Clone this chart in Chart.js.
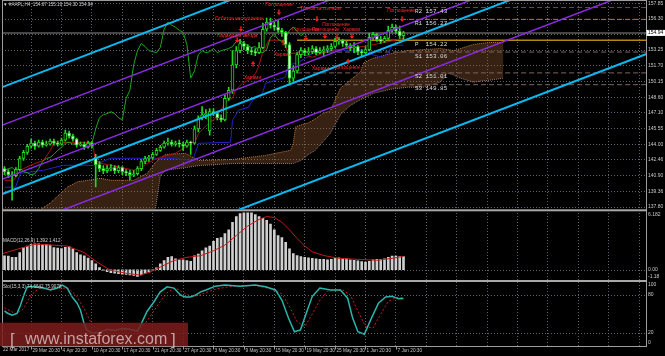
<!DOCTYPE html>
<html><head><meta charset="utf-8">
<script src="https://cdn.jsdelivr.net/npm/chart.js"></script>
<style>html,body{margin:0;padding:0;background:#000;overflow:hidden}#c{display:block}</style>
</head><body>
<canvas id="c" width="665" height="356"></canvas>
<script>
// ---------------- DATA ----------------
const titleText = '\u25BC #AAPL,H4  154.67 155.10 154.30 154.94';
const macdTitle = 'MACD(12,26,9) 1.392 1.412';
const stochTitle = 'Sto(15,3,3) 74.6642 75.9078';
const firstDateLabel = '22 Mar 2017';
const dateLabels = ['29 Mar 20:30','4 Apr 20:30','10 Apr 20:30','17 Apr 20:30','21 Apr 20:30','27 Apr 20:30','3 May 20:30','9 May 20:30','15 May 20:30','19 May 20:30','25 May 20:30','1 Jun 20:30','7 Jun 20:30'];
const dateLabelBars = [7,15,23,31,39,47,55,63,71,79,87,95,103];
const priceTicks = [157.85,156.30,154.75,153.25,151.70,150.15,148.60,147.10,145.55,144.00,142.46,140.90,139.36,137.80];
const bidPrice = 154.94;

const candleOpen  = [141.6,141.3,141.0,140.9,141.5,142.6,143.2,143.8,144.1,143.8,144.2,143.9,144.0,144.3,144.1,144.0,144.4,145.1,144.8,144.5,143.9,144.0,143.7,144.1,142.7,142.0,141.6,141.4,141.6,141.7,141.4,141.7,141.3,141.2,141.0,141.1,141.6,142.3,142.6,142.7,143.0,143.4,143.7,144.1,144.2,144.0,144.1,144.0,143.8,144.2,144.1,145.5,146.6,146.9,145.3,147.2,147.0,146.6,146.4,148.5,149.3,151.8,153.2,153.9,153.6,153.2,153.1,153.0,153.5,155.3,156.0,155.7,155.5,155.2,155.0,153.8,150.5,151.2,152.8,153.2,153.0,153.1,153.4,153.0,153.2,153.3,153.4,153.6,154.1,154.2,153.9,153.7,153.5,153.6,153.1,153.0,153.3,154.5,154.8,154.3,154.1,154.4,155.2,155.5,155.1,154.67];
const candleHigh  = [141.8,141.5,141.3,141.7,142.8,143.4,144.0,144.5,144.3,144.4,144.4,144.3,144.5,144.5,144.3,144.6,145.4,145.3,145.0,144.6,144.2,144.2,144.3,144.2,143.0,142.3,141.9,141.9,142.0,141.9,141.9,141.8,141.5,141.4,141.4,141.8,142.5,142.8,142.9,143.2,143.6,143.9,144.3,144.6,144.4,144.3,144.4,144.2,144.4,144.3,145.8,146.8,147.7,147.4,147.5,147.5,147.1,146.9,148.8,149.6,153.2,153.6,154.3,154.1,153.8,153.5,153.4,154.0,155.9,156.4,156.4,156.1,156.2,155.4,155.1,154.0,151.7,153.0,153.5,153.4,153.5,153.7,153.6,153.5,153.6,153.7,153.9,154.4,154.5,154.3,154.1,153.9,154.0,153.7,153.3,153.6,154.9,155.0,154.9,154.6,154.6,155.6,155.8,155.7,155.6,155.10];
const candleLow   = [141.0,140.7,138.5,140.8,141.4,142.4,143.0,143.6,143.5,143.7,143.7,143.8,143.9,143.9,143.8,143.9,144.3,144.6,144.3,143.7,143.8,143.5,143.6,143.6,139.8,141.3,141.1,141.2,141.4,141.1,141.2,141.0,140.9,140.5,140.8,141.0,141.4,142.1,142.3,142.5,142.9,143.3,143.6,143.9,143.8,143.8,143.7,143.4,143.7,143.0,144.0,145.2,146.4,146.5,144.9,146.8,146.4,146.2,146.3,148.3,149.0,151.5,153.0,153.3,152.9,152.8,152.7,152.9,153.4,155.1,155.4,155.2,155.0,154.6,153.5,149.8,150.2,151.0,152.5,152.7,152.8,152.9,152.8,152.9,152.6,153.0,153.2,153.5,153.8,153.6,153.4,153.2,153.0,152.8,152.7,152.9,153.2,154.3,154.1,153.9,154.0,154.3,155.0,154.9,154.4,154.30];
const candleClose = [141.3,141.0,140.9,141.5,142.6,143.2,143.8,144.1,143.8,144.2,143.9,144.0,144.3,144.1,144.0,144.4,145.1,144.8,144.5,143.9,144.0,143.7,144.1,143.8,142.0,141.6,141.4,141.6,141.7,141.4,141.7,141.3,141.2,141.0,141.1,141.6,142.3,142.6,142.7,143.0,143.4,143.7,144.1,144.2,144.0,144.1,144.0,143.8,144.2,144.1,145.5,146.6,146.9,147.0,147.2,147.0,146.6,146.4,148.5,149.3,151.8,153.2,153.9,153.6,153.2,153.1,153.0,153.5,155.3,156.0,155.7,155.5,155.2,155.0,153.8,150.5,151.2,152.8,153.2,153.0,153.1,153.4,153.0,153.2,153.3,153.4,153.6,154.1,154.2,153.9,153.7,153.5,153.6,153.1,153.0,153.3,154.5,154.8,154.3,154.1,154.4,155.2,155.5,155.1,154.67,154.94];

const tenkanLine = [[0,140.45],[2.4,140.45],[4.2,141.44],[6.8,141.93],[10.3,142.42],[12.1,143.40],[12.9,144.09],[16.6,144.19],[21.8,144.19],[23.2,144.09],[23.9,142.42],[25.3,142.13],[27.9,141.93],[30.5,141.73],[33.9,141.44],[35.8,141.63],[37.6,142.13],[39.2,142.42],[41.1,142.72],[45,143.11],[47.6,143.70],[50.3,144.39],[51.1,145.08],[53.7,146.06],[55.5,146.55],[57.4,147.63],[58.7,148.32],[60,148.52],[60.8,149.30],[62.6,149.99],[64.2,150.29],[66.1,150.98],[66.8,151.57],[67.9,152.94],[68.7,153.53],[69.5,154.22],[73.2,154.22],[74.7,152.94],[77.4,152.94],[81.1,152.55],[83.7,152.94],[86.3,153.24],[91.1,153.43],[96.3,153.73],[100.3,154.02],[105,154.42]];
const kijunLine = [[0,139.77],[2.9,139.77],[4.2,141.14],[10.3,141.44],[15.5,141.93],[23.4,141.93],[27.9,142.62],[42.9,142.62],[49.5,142.42],[51.1,144.09],[59.5,144.19],[60,146.35],[61.6,147.34],[64.2,147.63],[65.3,148.32],[67.9,149.01],[68.7,149.99],[73.9,150.58],[74.7,151.76],[77.4,152.06],[79.2,152.45],[81.1,152.94],[86.3,153.24],[94.5,153.24],[97.1,152.75],[99.7,152.55],[100.8,152.94],[102.1,153.73],[105,153.73]];
const chikouShift = 26;

const cloudBars   = [-1,9.5,12,16.6,19.2,21.8,25.3,28,34,37.6,39.7,41,42.4,47.6,51.1,60,68.7,71.3,75.3,76,76.6,78,80,81.8,83.7,85.8,88.4,91,93.7,94.5,97.1,101.6,106.1,110.3,114.7,116.6,118.2,119.2,120.8,123.4,125.3,127.9,131.3];
const cloudTop    = [137.6,137.6,138.2,139.8,140.3,140.45,140.65,140.45,140.45,141.15,142.2,142.6,143.0,143.1,142.4,142.5,142.9,143.1,143.4,144.1,145.7,145.9,146.1,146.5,147.0,147.3,149.5,150.3,151.1,152.0,152.45,152.9,153.2,153.3,153.4,153.3,153.2,153.3,153.5,153.8,153.9,154.0,154.0];
const cloudBottom = [137.6,137.6,137.6,137.6,137.6,137.6,137.6,137.6,137.6,137.6,137.6,140.9,141.45,141.7,141.9,142.1,142.1,142.1,142.1,142.1,142.2,142.4,143.0,143.4,144.2,145.1,146.9,147.8,148.4,148.5,149.0,149.4,149.6,149.6,150.1,151.0,150.8,150.6,150.4,150.1,150.2,150.3,150.5];

const pivotNames  = ['R2','R1','P','S1','S2','S3'];
const pivotValues = [157.43,156.27,154.22,153.06,151.01,149.85];
const pivotStartBar = 77;
const pivotLabelBar = 108;

const channelBars = [-1,170];
const cyanChannel   = [[149.55,173.95],[139.04,163.44],[128.62,153.02]];
const purpleChannel = [[145.82,170.22],[140.51,164.91],[135.21,159.60]];

const macdHist = [1.48,1.45,1.31,1.31,1.82,2.33,2.5,2.67,2.74,2.74,
 2.67,2.67,2.6,2.33,2.27,2.24,2.35,2.45,2.2,1.82,
 1.58,1.48,1.24,0.97,0.63,0.22,-0.05,-0.2,-0.3,-0.35,
 -0.4,-0.45,-0.5,-0.55,-0.6,-0.7,-0.55,-0.4,-0.25,-0.05,
 0.2,0.63,0.97,1.31,1.38,1.14,1.04,1.04,0.97,0.9,
 1.48,1.65,2.0,2.3,2.5,3.0,3.3,3.4,3.8,4.2,
 5.0,5.6,5.9,6.0,6.0,6.0,5.8,5.6,5.4,5.2,
 4.8,4.2,3.6,3.4,2.9,2.2,1.7,1.5,1.4,1.3,
 1.25,1.2,1.15,1.1,1.1,1.05,1.1,1.2,1.25,1.2,
 1.15,1.05,1.0,0.95,0.85,0.8,0.9,1.05,1.1,1.1,
 1.15,1.3,1.45,1.45,1.4,1.39];
const macdSignal = [[-1,1.65],[7.7,2.67],[9.5,2.67],[16.5,2.5],[20.9,1.82],[24.4,0.8],[27.9,-0.05],[32.3,-0.39],[35.8,-0.56],[38.4,-0.22],[41,0.29],[44.6,0.97],[48,1.31],[51.6,1.48],[55,2.0],[58,2.6],[61,3.6],[64,4.6],[67,5.3],[69,5.6],[71,5.5],[73,5.0],[75,4.2],[77,3.3],[79,2.5],[81,1.9],[84,1.5],[88,1.2],[93,1.1],[98,1.0],[102,1.2],[105,1.41]];
const macdAxisLabels = ['6.182','0.00','-1.18'];
const macdAxisValues = [6.182,0,-1.18];

const stochMain = [[0,55],[0.7,51.6],[2,48],[3.3,51],[4.2,64],[5.1,80],[6,93],[7.7,93],[10.3,91],[12.1,88],[13.9,91],[15.2,95.7],[16.5,91],[17.8,77],[19.1,67],[20,56],[20.9,36],[21.6,25],[23,20],[25,21],[27,26],[29,24],[31,27],[33,26],[35,23],[35.8,32],[37.5,54],[39.3,69],[41,85],[42.8,93],[44.6,91],[46.3,80],[47.6,77],[48.9,77],[50.3,80],[51.6,85],[53,88],[55.5,94],[58,96],[62,94],[66,96],[68.7,93],[71.3,88],[73,72],[74.7,44],[76.3,22],[77.9,25],[79.5,53],[81,78],[83,91],[85.8,88],[88.4,88],[90.3,75],[91.6,44],[93,22],[94.7,18],[96.3,40],[98.4,67],[100.3,77],[102,78],[103.7,74],[105,74.66]];
const stochSignal = [[0,60],[3,50],[5,58],[7,80],[9,90],[12,90],[15,91],[17,90],[19,78],[21,58],[23,33],[25,24],[28,24],[32,26],[35,25],[37,35],[39,52],[41,70],[43,85],[45,91],[47,84],[49,78],[51,79],[53,84],[56,90],[60,94],[66,95],[70,90],[73,82],[75,62],[77,38],[79,30],[81,50],[83,72],[85,86],[89,88],[91,80],[93,55],[95,30],[97,28],[99,50],[101,70],[103,76],[105,75.91]];
const stochAxisLabels = ['100','80','20','0'];
const stochAxisValues = [100,80,20,0];
const stochLevels = [80,20];

const patternTexts = [['Поглощение',68.6,157.68],['Толчок за толчком',77.8,157.29],['Отбитое наступление',55.4,156.33],['Падающая звезда',55.9,154.66],['Харами',63.0,150.53],['Харами',70.9,152.79],['Поглощение',75.7,155.25],['Поглощение',83.6,155.74],['Поглощение',80.9,155.25],['Харами',89.1,155.25],['Харами',80.9,151.38],['Поглощение',86.4,151.57],['Поглощение',100.7,157.09]];
const arrowsDown = [[72.2,156.9],[62.2,155.25],[61.2,154.17],[79.3,154.37],[82.2,156.24],[84.3,154.56],[87.5,154.47],[91.4,154.56],[104.6,156.23]];
const arrowsUp = [[65.4,151.97],[73.3,154.07],[90.4,152.2]];
const watermarkText = 'www.instaforex.com';

// ---------------- LAYOUT CONSTANTS ----------------
const X_MIN = -0.658, X_MAX = 168.82;
const Y_MAIN = [124.168, 158.174];
const Y_MACD = [-8.016, 28.374];
const Y_STOCH = [-0.474, 545.87];
const PANEL = { y:[0,209.3], yMacd:[211.3,280], yStoch:[282,346] };
const FONT = '"Liberation Sans", Arial, sans-serif';

const gridBars = [];
for (let b = 7; b < X_MAX; b += 8) gridBars.push(b);

const canvas = document.getElementById('c');
const cloudFill = 'rgba(165,100,55,0.33)';

const idx = candleClose.map((_, i) => i);
const pts = arr => arr.map(p => ({x:p[0], y:p[1]}));
const line = (data, color, width, extra) => Object.assign({type:'line', data, borderColor:color, borderWidth:width, pointRadius:0, fill:false, tension:0, yAxisID:'y'}, extra||{});

const datasets = [];
// cloud
datasets.push(line(cloudBars.map((b,i)=>({x:b,y:cloudTop[i]})), '#c07a40', 1, {borderDash:[1,1], order:20}));
datasets.push(line(cloudBars.map((b,i)=>({x:b,y:cloudBottom[i]})), '#9a7a80', 1, {borderDash:[1,1], order:21, fill:'-1', backgroundColor:cloudFill}));
// pivots
const pivotColors = ['#b3351f','#cf6a2c','#b08a0c','#7e6464','#7e6464','#7e6464'];
pivotValues.forEach((v,i)=>{
  datasets.push(line([{x:pivotStartBar,y:v},{x:channelBars[1],y:v}], pivotColors[i], pivotNames[i]==='P'?1.5:1, {borderDash: pivotNames[i]==='P'?[]:[5,3], order:12}));
});
// bid line
datasets.push(line([{x:channelBars[0],y:bidPrice},{x:channelBars[1],y:bidPrice}], '#5c5c5c', 1.5, {order:13}));
// ichimoku lines
datasets.push(line(pts(tenkanLine), '#b01010', 1, {order:6}));
datasets.push(line(pts(kijunLine), '#2222cc', 1, {order:6}));
datasets.push(line(candleClose.slice(chikouShift).map((c,i)=>({x:i,y:c})), '#18aa18', 1, {order:5}));
// candles
datasets.push({type:'bar', yAxisID:'y', grouped:false, order:3, barThickness:1, borderWidth:0,
  backgroundColor:'#22d822', data: idx.map(i=>({x:i, y:[candleLow[i], candleHigh[i]]}))});
datasets.push({type:'bar', yAxisID:'y', grouped:false, order:2, barThickness:3, borderWidth:1, borderSkipped:false, minBarLength:1,
  borderColor:'#22d822', backgroundColor: idx.map(i => candleClose[i] < candleOpen[i] ? '#ffffff' : '#000000'),
  data: idx.map(i=>({x:i, y:[candleOpen[i], candleClose[i]]}))});
// channels
cyanChannel.forEach(c => datasets.push(line([{x:channelBars[0],y:c[0]},{x:channelBars[1],y:c[1]}], '#0cb8f0', 2, {order:1})));
purpleChannel.forEach(c => datasets.push(line([{x:channelBars[0],y:c[0]},{x:channelBars[1],y:c[1]}], '#8a2be2', 1.5, {order:1})));
// MACD
datasets.push({type:'bar', yAxisID:'yMacd', grouped:false, order:4, barThickness:2, borderWidth:0,
  backgroundColor:'#cfcfcf', data: idx.map(i=>({x:i, y:[0, macdHist[i]]}))});
datasets.push(line(pts(macdSignal), '#c41a1a', 1, {yAxisID:'yMacd', order:3}));
// Stochastic
datasets.push(line(pts(stochSignal), '#c81e1e', 1, {yAxisID:'yStoch', borderDash:[2,2], order:4}));
datasets.push(line(pts(stochMain), '#2ab6ad', 1.5, {yAxisID:'yStoch', order:3}));

// ---------------- PLUGINS ----------------
const bgPlugin = { id:'bg', beforeDraw(chart){ const c=chart.ctx; c.save(); c.fillStyle='#000'; c.fillRect(0,0,chart.width,chart.height); c.restore(); } };
const clipPlugin = {
  id:'panelClip',
  beforeDatasetDraw(chart,args){
    const ds = chart.data.datasets[args.index]; const p = PANEL[ds.yAxisID||'y']; const a = chart.chartArea; const c = chart.ctx;
    c.save(); c.beginPath(); c.rect(a.left, p[0], a.right-a.left, p[1]-p[0]); c.clip();
  },
  afterDatasetDraw(chart){ chart.ctx.restore(); }
};
const decorPlugin = {
  id:'decor',
  afterDatasetsDraw(chart){
    const c = chart.ctx, a = chart.chartArea, xs = chart.scales.x, ys = chart.scales.y, ym = chart.scales.yMacd, yst = chart.scales.yStoch;
    c.save();
    // frames & separators
    c.strokeStyle = '#9c9c9c'; c.lineWidth = 1;
    c.beginPath(); c.moveTo(a.left+0.5,0); c.lineTo(a.left+0.5,346.5); c.moveTo(a.right+0.5,0); c.lineTo(a.right+0.5,346.5);
    c.moveTo(a.left,0.5); c.lineTo(a.right+1,0.5); c.moveTo(a.left,346.5); c.lineTo(a.right+1,346.5); c.stroke();
    c.fillStyle = '#a8a8a8';
    c.fillRect(a.left, PANEL.y[1], a.right-a.left+1, PANEL.yMacd[0]-PANEL.y[1]);
    c.fillRect(a.left, PANEL.yMacd[1], a.right-a.left+1, PANEL.yStoch[0]-PANEL.yMacd[1]);

    // pattern annotations (main panel)
    c.save(); c.beginPath(); c.rect(a.left, PANEL.y[0], a.right-a.left, PANEL.y[1]); c.clip();
    c.font = '4.8px ' + FONT; c.fillStyle = '#ff2a2a'; c.textBaseline = 'middle'; c.textAlign = 'left';
    patternTexts.forEach(t => c.fillText(t[0], xs.getPixelForValue(t[1]), ys.getPixelForValue(t[2])));
    c.fillStyle = '#f01c1c';
    arrowsDown.forEach(p => { const x = xs.getPixelForValue(p[0]), y = ys.getPixelForValue(p[1]);
      c.fillRect(x-0.6, y-3.5, 1.4, 3); c.beginPath(); c.moveTo(x-2.2,y-0.8); c.lineTo(x+2.4,y-0.8); c.lineTo(x+0.1,y+2.2); c.closePath(); c.fill(); });
    arrowsUp.forEach(p => { const x = xs.getPixelForValue(p[0]), y = ys.getPixelForValue(p[1]);
      c.fillRect(x-0.6, y+0.5, 1.4, 3); c.beginPath(); c.moveTo(x-2.2,y+0.8); c.lineTo(x+2.4,y+0.8); c.lineTo(x+0.1,y-2.2); c.closePath(); c.fill(); });
    // pivot labels
    c.font = '6px "Liberation Mono", "DejaVu Sans Mono", monospace'; c.fillStyle = '#dcdcdc'; c.textBaseline = 'top';
    pivotValues.forEach((v,i) => c.fillText(pivotNames[i].padEnd(2,' ') + ' ' + v.toFixed(2), xs.getPixelForValue(pivotLabelBar), ys.getPixelForValue(v)+1));
    c.restore();

    // indicator titles
    c.font = '4.6px ' + FONT; c.fillStyle = '#d2d2d2'; c.textBaseline = 'middle'; c.textAlign = 'left';
    c.fillText(titleText, 3, 5);
    c.fillText(macdTitle, 3, 241);
    c.fillText(stochTitle, 3, 286.5);

    // right axis labels
    c.font = '5px ' + FONT; c.fillStyle = '#c8c8c8'; c.textAlign = 'left'; c.textBaseline = 'middle';
    const clampY = (y, p) => Math.max(p[0]+3, Math.min(p[1]-3, y));
    priceTicks.forEach(v => c.fillText(v.toFixed(2), 648, clampY(ys.getPixelForValue(v), PANEL.y)));
    macdAxisValues.forEach((v,i) => c.fillText(macdAxisLabels[i], 648, clampY(ym.getPixelForValue(v), PANEL.yMacd)));
    stochAxisValues.forEach((v,i) => c.fillText(stochAxisLabels[i], 648, clampY(yst.getPixelForValue(v), PANEL.yStoch)));
    // current price box
    const by = ys.getPixelForValue(bidPrice);
    c.fillStyle = '#ffffff'; c.fillRect(646.5, by-3, 18.5, 6);
    c.fillStyle = '#000000'; c.fillText(bidPrice.toFixed(2), 648, by);

    // stochastic levels / macd zero dotted lines
    c.strokeStyle = '#5d646e'; c.setLineDash([1,2]); c.lineWidth = 1; c.beginPath();
    stochLevels.forEach(v => { const y = Math.round(yst.getPixelForValue(v))+0.5; c.moveTo(a.left, y); c.lineTo(a.right, y); });
    const zy = Math.round(ym.getPixelForValue(0))+0.5; c.moveTo(a.left, zy); c.lineTo(a.right, zy);
    c.stroke(); c.setLineDash([]);

    // date labels
    c.font = '4.7px ' + FONT; c.fillStyle = '#c4c4c4'; c.textBaseline = 'middle'; c.textAlign = 'left';
    c.fillText(firstDateLabel, 3, 350);
    c.strokeStyle = '#a0a0a0'; c.beginPath();
    dateLabelBars.forEach((b,i) => { const x = Math.round(xs.getPixelForValue(b))+0.5; c.moveTo(x,347); c.lineTo(x,349.5); c.fillText(dateLabels[i], x+1, 350.5); });
    c.stroke();

    // watermark
    c.fillStyle = 'rgba(124,28,28,0.86)'; c.fillRect(0, 322.7, 188, 23.5);
    c.fillStyle = 'rgba(214,188,188,0.85)'; c.textBaseline = 'alphabetic';
    c.font = '17px ' + FONT; c.fillText('[', 10, 344.5); c.fillText(']', 171, 344.5);
    c.font = '16px ' + FONT; c.fillText(watermarkText, 25, 344);
    c.restore();
  }
};

new Chart(canvas, {
  type: 'bar',
  data: { datasets },
  options: {
    responsive:false, animation:false, devicePixelRatio:1, events:[],
    layout:{ padding:{left:2, right:0, top:0, bottom:0} },
    plugins:{ legend:{display:false}, tooltip:{enabled:false} },
    scales:{
      x:{ type:'linear', min:X_MIN, max:X_MAX, offset:false, bounds:'data', position:'bottom',
          afterBuildTicks: s => { s.ticks = gridBars.map(v => ({value:v})); },
          afterFit: s => { s.height = 10; },
          ticks:{display:false}, grid:{color:'#5d646e', lineWidth:1, drawTicks:false, offset:false},
          border:{display:false, dash:[1,2]} },
      y:{ type:'linear', position:'right', min:Y_MAIN[0], max:Y_MAIN[1], bounds:'data',
          afterBuildTicks: s => { s.ticks = priceTicks.map(v => ({value:v})); },
          afterFit: s => { s.width = 19; },
          ticks:{display:false}, grid:{color:'#5d646e', lineWidth:1, drawTicks:false},
          border:{display:false, dash:[1,2]} },
      yMacd:{ type:'linear', display:false, position:'right', min:Y_MACD[0], max:Y_MACD[1] },
      yStoch:{ type:'linear', display:false, position:'right', min:Y_STOCH[0], max:Y_STOCH[1] }
    }
  },
  plugins:[bgPlugin, clipPlugin, decorPlugin]
});
</script>
</body></html>
